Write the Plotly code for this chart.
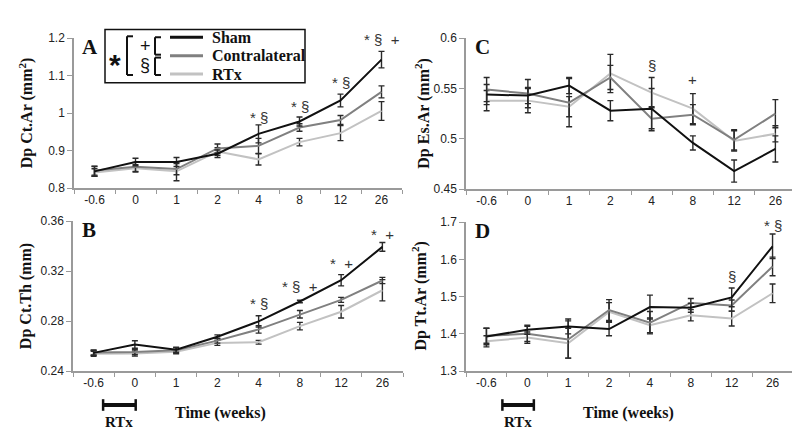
import plotly.graph_objects as go

W, H = 800, 434

categories = ["-0.6", "0", "1", "2", "4", "8", "12", "26"]
series_names = ["Sham", "Contralateral", "RTx"]

# Panel A: Dp Ct.Ar (mm2)
a_sham = [0.845, 0.870, 0.870, 0.892, 0.945, 0.978, 1.034, 1.143]
a_sham_err = [0.013, 0.010, 0.012, 0.010, 0.024, 0.012, 0.017, 0.022]
a_contra = [0.847, 0.857, 0.851, 0.906, 0.913, 0.962, 0.982, 1.057]
a_contra_err = [0.012, 0.012, 0.015, 0.012, 0.020, 0.010, 0.012, 0.016]
a_rtx = [0.842, 0.853, 0.845, 0.898, 0.877, 0.923, 0.947, 1.006]
a_rtx_err = [0.010, 0.010, 0.025, 0.010, 0.015, 0.010, 0.020, 0.025]
a_sig_x = ["4", "8", "12", "26"]
a_sig_text = ["* §", "* §", "* §", "* §  +"]
a_sig_y = [0.988, 1.017, 1.081, 1.197]

# Panel B: Dp Ct.Th (mm)
b_sham = [0.2546, 0.2613, 0.2572, 0.2675, 0.2798, 0.2957, 0.3127, 0.3394]
b_sham_err = [0.002, 0.003, 0.002, 0.0015, 0.0045, 0.001, 0.0045, 0.0035]
b_contra = [0.2549, 0.2554, 0.2567, 0.2644, 0.2734, 0.2855, 0.2970, 0.3125]
b_contra_err = [0.002, 0.002, 0.002, 0.002, 0.003, 0.003, 0.002, 0.0025]
b_rtx = [0.2539, 0.2541, 0.2554, 0.2626, 0.2631, 0.2760, 0.2875, 0.3047]
b_rtx_err = [0.002, 0.002, 0.0015, 0.002, 0.0015, 0.003, 0.005, 0.0085]
b_sig_x = ["4", "8", "12", "26"]
b_sig_text = ["* §", "* §  +", "*  +", "*  +"]
b_sig_y = [0.2942, 0.3073, 0.3258, 0.349]

# Panel C: Dp Es.Ar (mm2)
c_sham = [0.544, 0.543, 0.553, 0.528, 0.530, 0.496, 0.468, 0.490]
c_sham_err = [0.010, 0.008, 0.008, 0.010, 0.020, 0.007, 0.011, 0.013]
c_contra = [0.549, 0.545, 0.536, 0.561, 0.520, 0.524, 0.499, 0.525]
c_contra_err = [0.012, 0.014, 0.024, 0.012, 0.012, 0.010, 0.010, 0.014]
c_rtx = [0.538, 0.538, 0.532, 0.565, 0.546, 0.530, 0.498, 0.505]
c_rtx_err = [0.010, 0.012, 0.010, 0.019, 0.015, 0.015, 0.010, 0.008]
c_sig_x = ["4", "8"]
c_sig_text = ["§", "+"]
c_sig_y = [0.573, 0.5587]

# Panel D: Dp Tt.Ar (mm2)
d_sham = [1.393, 1.411, 1.420, 1.413, 1.472, 1.470, 1.498, 1.635]
d_sham_err = [0.022, 0.012, 0.020, 0.018, 0.032, 0.012, 0.025, 0.033]
d_contra = [1.395, 1.400, 1.385, 1.464, 1.430, 1.483, 1.476, 1.581]
d_contra_err = [0.020, 0.020, 0.050, 0.028, 0.030, 0.012, 0.015, 0.025]
d_rtx = [1.380, 1.390, 1.375, 1.459, 1.423, 1.450, 1.441, 1.509]
d_rtx_err = [0.015, 0.015, 0.040, 0.025, 0.020, 0.015, 0.020, 0.025]
d_sig_x = ["12", "26"]
d_sig_text = ["§", "* §"]
d_sig_y = [1.555, 1.69]

COLORS = {"Sham": "#111111", "Contralateral": "#808080", "RTx": "#c2c2c2"}
ERR_COLOR = "#2a2a2a"
AXIS_COLOR = "#9a9a9a"
SERIF = "Liberation Serif"
SANS = "Liberation Sans"


def fx(px):
    return px / W


def fy(py):
    return 1 - py / H


panels = [
    dict(key="A", xa="x", ya="y", dom_x=(66, 394), dom_y=(24, 179), rng=[0.8, 1.2], dtick=0.1,
         data=[(a_sham, a_sham_err), (a_contra, a_contra_err), (a_rtx, a_rtx_err)],
         sig=(a_sig_x, a_sig_text, a_sig_y), title="Dp Ct.Ar (mm<sup>2</sup>)", title_x=18),
    dict(key="B", xa="x2", ya="y2", dom_x=(65, 395), dom_y=(213, 368), rng=[0.24, 0.36], dtick=0.04,
         data=[(b_sham, b_sham_err), (b_contra, b_contra_err), (b_rtx, b_rtx_err)],
         sig=(b_sig_x, b_sig_text, b_sig_y), title="Dp Ct.Th (mm)", title_x=18),
    dict(key="C", xa="x3", ya="y3", dom_x=(458, 788), dom_y=(24, 180), rng=[0.45, 0.6], dtick=0.05,
         data=[(c_sham, c_sham_err), (c_contra, c_contra_err), (c_rtx, c_rtx_err)],
         sig=(c_sig_x, c_sig_text, c_sig_y), title="Dp Es.Ar (mm<sup>2</sup>)", title_x=415),
    dict(key="D", xa="x4", ya="y4", dom_x=(458, 785), dom_y=(214, 368), rng=[1.3, 1.7], dtick=0.1,
         data=[(d_sham, d_sham_err), (d_contra, d_contra_err), (d_rtx, d_rtx_err)],
         sig=(d_sig_x, d_sig_text, d_sig_y), title="Dp Tt.Ar (mm<sup>2</sup>)", title_x=412),
]

fig = go.Figure()
annotations = []
shapes = []

for p in panels:
    # draw RTx first, Sham on top
    for name, (vals, errs) in reversed(list(zip(series_names, p["data"]))):
        fig.add_trace(go.Scatter(
            x=categories, y=vals, mode="lines", name=name, showlegend=False,
            line=dict(color=COLORS[name], width=2),
            error_y=dict(type="data", array=errs, visible=True, color=ERR_COLOR,
                         thickness=1.4, width=3),
            xaxis=p["xa"], yaxis=p["ya"], cliponaxis=False,
        ))
    xs, ts, ys = p["sig"]
    for sx, st, sy in zip(xs, ts, ys):
        annotations.append(dict(x=categories.index(sx), y=sy, xref=p["xa"], yref=p["ya"], text=st,
                                showarrow=False, font=dict(family=SANS, size=15, color="#333333"),
                                xanchor="center", yanchor="middle"))
    # panel letter
    annotations.append(dict(x=fx(p["dom_x"][0] + 16), y=fy(p["dom_y"][0] + 9), xref="paper", yref="paper",
                            text="<b>%s</b>" % p["key"], showarrow=False,
                            font=dict(family=SERIF, size=21, color="#111111"),
                            xanchor="center", yanchor="middle"))
    # y-axis title
    annotations.append(dict(x=fx(p["title_x"]), y=fy((p["dom_y"][0] + p["dom_y"][1]) / 2),
                            xref="paper", yref="paper", text="<b>%s</b>" % p["title"], textangle=-90,
                            showarrow=False, font=dict(family=SERIF, size=16, color="#111111"),
                            xanchor="center", yanchor="middle"))

    ax_common = dict(showgrid=False, zeroline=False, showline=True, linecolor=AXIS_COLOR, linewidth=1.5,
                     ticks="outside", tickcolor=AXIS_COLOR, tickwidth=1.2)
    xkey = "xaxis" if p["xa"] == "x" else "xaxis" + p["xa"][1:]
    ykey = "yaxis" if p["ya"] == "y" else "yaxis" + p["ya"][1:]
    fig.layout[xkey] = dict(ax_common, type="category", categoryorder="array", categoryarray=categories,
                            range=[-0.5, 7.5], tickson="boundaries", ticklen=4,
                            domain=[fx(p["dom_x"][0]), fx(p["dom_x"][1])], anchor=p["ya"],
                            tickfont=dict(family=SANS, size=12, color="#222222"))
    fig.layout[ykey] = dict(ax_common, range=p["rng"], dtick=p["dtick"], tick0=p["rng"][0], ticklen=5,
                            domain=[fy(p["dom_y"][1]), fy(p["dom_y"][0])], anchor=p["xa"],
                            tickfont=dict(family=SANS, size=12, color="#222222"))

# x-axis titles and RTx bars for bottom panels
for xa, title_cx, bar_lo, bar_hi, rtx_cx in [("x2", 212, 0.23, 1.02, 111), ("x4", 620, 0.39, 1.16, 510)]:
    annotations.append(dict(x=fx(title_cx), y=fy(411), xref="paper", yref="paper",
                            text="<b>Time (weeks)</b>", showarrow=False,
                            font=dict(family=SERIF, size=16, color="#111111"),
                            xanchor="center", yanchor="middle"))
    annotations.append(dict(x=fx(rtx_cx), y=fy(421), xref="paper", yref="paper",
                            text="<b>RTx</b>", showarrow=False,
                            font=dict(family=SERIF, size=15, color="#111111"),
                            xanchor="center", yanchor="middle"))
    shapes.append(dict(type="line", xref=xa, yref="paper", x0=bar_lo, x1=bar_hi, y0=fy(403), y1=fy(403),
                       line=dict(color="#111111", width=4)))
    for xe in (bar_lo, bar_hi):
        shapes.append(dict(type="line", xref=xa, yref="paper", x0=xe, x1=xe, y0=fy(397), y1=fy(409),
                           line=dict(color="#111111", width=2.5)))

# Legend box in panel A
shapes.append(dict(type="rect", xref="paper", yref="paper", x0=fx(97), x1=fx(297), y0=fy(70), y1=fy(15),
                   line=dict(color="#111111", width=1.5), fillcolor="white", layer="above"))
legend_y = [23, 42, 61]
for name, ly in zip(series_names, legend_y):
    shapes.append(dict(type="line", xref="paper", yref="paper", x0=fx(162), x1=fx(195), y0=fy(ly), y1=fy(ly),
                       line=dict(color=COLORS[name], width=3), layer="above"))
    annotations.append(dict(x=fx(202), y=fy(ly), xref="paper", yref="paper", text="<b>%s</b>" % name,
                            showarrow=False, font=dict(family=SERIF, size=16, color="#111111"),
                            xanchor="left", yanchor="middle"))


def bracket(x, y_top, y_bot, arm):
    segs = [(x, y_top, x, y_bot), (x, y_top, x + arm, y_top), (x, y_bot, x + arm, y_bot)]
    for x0, y0, x1, y1 in segs:
        shapes.append(dict(type="line", xref="paper", yref="paper", x0=fx(x0), x1=fx(x1), y0=fy(y0), y1=fy(y1),
                           line=dict(color="#111111", width=2), layer="above"))


bracket(119, 22, 62, 6)
bracket(147, 23, 41, 6)
bracket(147, 44, 62, 6)
annotations.append(dict(x=fx(107), y=fy(51), xref="paper", yref="paper", text="<b>*</b>", showarrow=False,
                        font=dict(family=SANS, size=30, color="#111111"), xanchor="center", yanchor="middle"))
annotations.append(dict(x=fx(137), y=fy(32), xref="paper", yref="paper", text="+", showarrow=False,
                        font=dict(family=SANS, size=18, color="#111111"), xanchor="center", yanchor="middle"))
annotations.append(dict(x=fx(137), y=fy(52), xref="paper", yref="paper", text="§", showarrow=False,
                        font=dict(family=SANS, size=18, color="#111111"), xanchor="center", yanchor="middle"))

fig.update_layout(width=W, height=H, margin=dict(l=0, r=0, t=0, b=0), paper_bgcolor="white",
                  plot_bgcolor="white", showlegend=False, annotations=annotations, shapes=shapes)

fig.write_html("out.html")
